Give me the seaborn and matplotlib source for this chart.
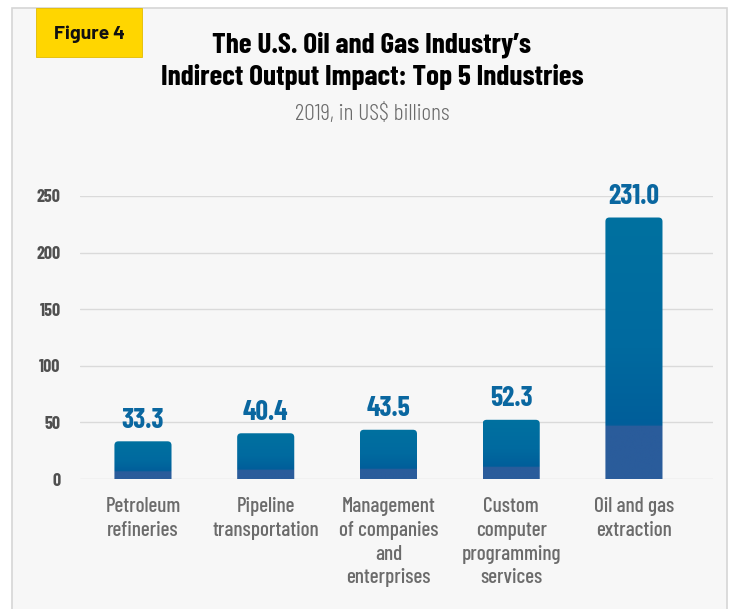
import matplotlib
matplotlib.use("Agg")
import matplotlib.pyplot as plt
import seaborn as sns
import numpy as np
import pandas as pd
from matplotlib.patches import Rectangle, FancyBboxPatch
from matplotlib.colors import LinearSegmentedColormap
from matplotlib.transforms import IdentityTransform

categories = ["Petroleum\nrefineries", "Pipeline\ntransportation",
              "Management\nof companies\nand\nenterprises",
              "Custom\ncomputer\nprogramming\nservices", "Oil and gas\nextraction"]
values = [33.3, 40.4, 43.5, 52.3, 231.0]
value_labels = ["33.3", "40.4", "43.5", "52.3", "231.0"]
yticks = [0, 50, 100, 150, 200, 250]

sns.set_theme(style="white")
plt.rcParams['font.family'] = ['Barlow Condensed', 'DejaVu Sans']

W, H = 737, 609
fig = plt.figure(figsize=(W / 100, H / 100), dpi=100)
fig.patch.set_facecolor("white")

fig.add_artist(Rectangle((12 / W, -0.01), (727 - 12) / W, (H - 8) / H + 0.01,
                         transform=fig.transFigure, facecolor="#f7f7f7",
                         edgecolor="#d6d6d6", linewidth=1.2, zorder=0))
fig.add_artist(Rectangle((36 / W, 1 - 57 / H), (142 - 36) / W, (57 - 8) / H,
                         transform=fig.transFigure, facecolor="#ffd600",
                         edgecolor="#e3bc00", linewidth=0.6, zorder=1))
fig.text(89 / W, 1 - 34 / H, "Figure 4", ha="center", va="center",
         fontsize=14, fontweight="bold", color="#111111", family=["Barlow", "DejaVu Sans"])

fig.text(372 / W, 1 - 45 / H, "The U.S. Oil and Gas Industry’s", ha="center",
         va="center", fontsize=21, fontweight="bold", color="black")
fig.text(372 / W, 1 - 77 / H, "Indirect Output Impact: Top 5 Industries", ha="center",
         va="center", fontsize=21, fontweight="bold", color="black")
fig.text(372 / W, 1 - 115 / H, "2019, in US$ billions", ha="center", va="center",
         fontsize=17, fontweight=300, color="#6b6b6b")

ax = fig.add_axes([80 / W, 130 / H, (713 - 80) / W, (479 - 196) / H])
ax.set_facecolor("none")
df = pd.DataFrame({"cat": categories, "val": values})
sns.barplot(data=df, x="cat", y="val", color="#006d9e", width=0.465, ax=ax,
            saturation=1, zorder=3)
XLIM = (-0.513, 4.644)
ax.set_xlim(*XLIM)
ax.set_ylim(0, 250)
ax.set_yticks(yticks)
ax.set_yticklabels([str(t) for t in yticks], fontsize=13, fontweight="bold", color="#505050")
ax.set_xlabel("")
ax.set_ylabel("")
ax.tick_params(axis="y", length=0, pad=14)
ax.tick_params(axis="x", length=0, pad=13)
ax.set_xticks(range(len(categories)))
ax.set_xticklabels(categories, fontsize=15.3, color="#6b6b6b", linespacing=1.32, va="top",
                   fontweight=500)
for s in ax.spines.values():
    s.set_visible(False)
ax.grid(axis="y", color="#dadada", linewidth=1, zorder=0)
ax.set_axisbelow(True)

cmap = LinearSegmentedColormap.from_list(
    "g", [(0, "#2a5c9b"), (0.2, "#2a5c9b"), (0.205, "#015e9a"), (0.5, "#006a9f"), (1, "#0071a0")])
grad = np.linspace(0, 1, 256).reshape(-1, 1)
fig.canvas.draw()
for p, lab in zip(ax.patches, value_labels):
    x0, y0 = p.get_x(), p.get_y()
    w, h = p.get_width(), p.get_height()
    p.set_visible(False)
    im = ax.imshow(grad, cmap=cmap, extent=(x0, x0 + w, y0, y0 + h),
                   origin="lower", aspect="auto", zorder=3, interpolation="bilinear")
    (px0, py0), (px1, py1) = ax.transData.transform([(x0, y0), (x0 + w, y0 + h)])
    r = 4
    clip = FancyBboxPatch((px0, py0 - 2 * r), px1 - px0, py1 - py0 + 2 * r,
                          boxstyle=f"round,pad=0,rounding_size={r}",
                          transform=IdentityTransform(), facecolor="none", edgecolor="none")
    im.set_clip_path(clip)
    ax.text(x0 + w / 2, y0 + h + 12, lab, ha="center", va="baseline", fontsize=20,
            fontweight="bold", color="#0a67a0", zorder=4)

ax.set_xlim(*XLIM)
ax.set_ylim(0, 250)
fig.savefig("out.png", dpi=100, facecolor=fig.get_facecolor())
